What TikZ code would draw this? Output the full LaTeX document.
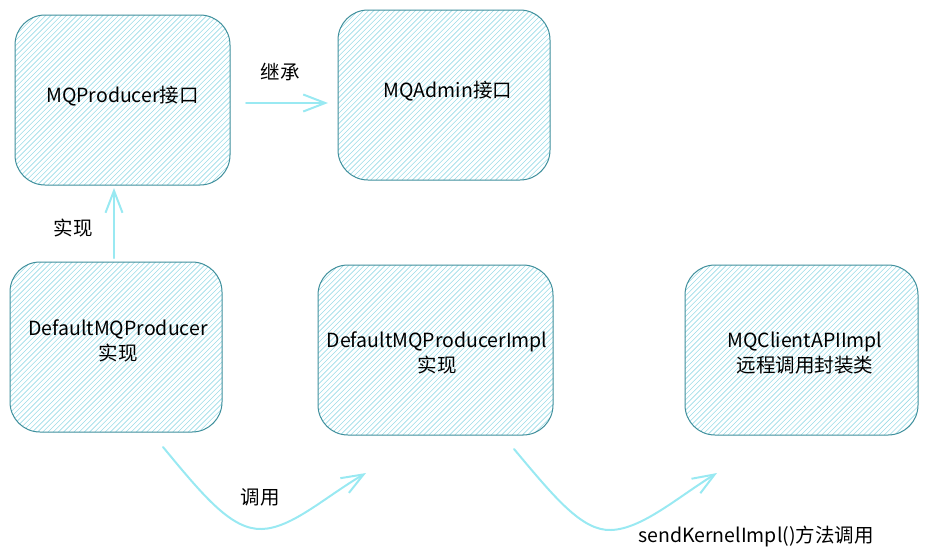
\documentclass[tikz,border=0pt]{standalone}
\usepackage{fontspec}
\setmainfont{Noto Sans CJK SC}
\usetikzlibrary{arrows.meta,calc}
\definecolor{boxline}{HTML}{3F8F9C}
\definecolor{hatch}{HTML}{9ADBE6}
\definecolor{arrowc}{HTML}{99E9F2}
\tikzset{
  boxedge/.style={draw=boxline, line width=1pt, rounded corners=30pt},
  hatchline/.style={draw=hatch, line width=0.6pt},
  txt/.style={font=\fontsize{19.5}{25}\selectfont, align=center, inner sep=0pt},
  arr/.style={draw=arrowc, line width=2pt, line cap=round,
    -{Straight Barb[length=22pt,width=17pt,line width=2pt]}},
  lbl/.style={font=\fontsize{19.5}{22}\selectfont, inner sep=0pt}
}
% hatched rounded box: x1 y1 x2 y2
\newcommand\hatchrect[4]{%
  \begin{scope}
    \clip[rounded corners=30pt] (#1,#2) rectangle (#3,#4);
    \pgfmathsetmacro\hH{#4-#2}
    \pgfmathsetmacro\hEnd{#3-#1+#4-#2}
    \foreach \s in {0,5.2,...,\hEnd}{
      \draw[hatchline] ({#1-\hH+\s},#4) -- ++(\hH,-\hH);
    }
  \end{scope}
  \path[boxedge] (#1,#2) rectangle (#3,#4);
}
\begin{document}
\begin{tikzpicture}[x=1pt,y=-1pt]
\useasboundingbox (0,0) rectangle (928,558);
% boxes
\hatchrect{15}{15}{230}{185}
\node[txt] (A) at (122.5,96) {MQProducer接口};
\hatchrect{338}{10}{550}{180}
\node[txt] (B) at (448,91) {MQAdmin接口};
\hatchrect{10}{262}{222}{432}
\node[txt] (C) at (118,341) {DefaultMQProducer\\实现};
\hatchrect{318}{265}{553}{435}
\node[txt] (D) at (437,353) {DefaultMQProducerImpl\\实现};
\hatchrect{685}{265}{918}{435}
\node[txt] (E) at (805,353) {MQClientAPIImpl\\远程调用封装类};
% named anchors for connectors
\coordinate (Asouth) at (114,188);
\coordinate (Cnorth) at (114,258);
\coordinate (Aeast) at (246,103);
\coordinate (Bwest) at (328,103);
\coordinate (Cout) at (163,447);
\coordinate (Din) at (366,473);
\coordinate (Dout) at (514,449);
\coordinate (Ein) at (717,473);
% connectors
\draw[arr] (Aeast) -- (Bwest);
\draw[arr] (Cnorth) -- (Asouth);
\draw[arr] (Cout) .. controls (205,498) and (232,530) .. (262,529)
  .. controls (292,528) and (325,497) .. (Din);
\draw[arr] (Dout) .. controls (555,498) and (582,531) .. (611,530)
  .. controls (642,529) and (678,497) .. (Ein);
% labels
\node[lbl] at (280,72) {继承};
\node[lbl] at (73,228) {实现};
\node[lbl] at (260,497) {调用};
\node[lbl] at (756,536) {sendKernelImpl()方法调用};
\end{tikzpicture}
\end{document}
